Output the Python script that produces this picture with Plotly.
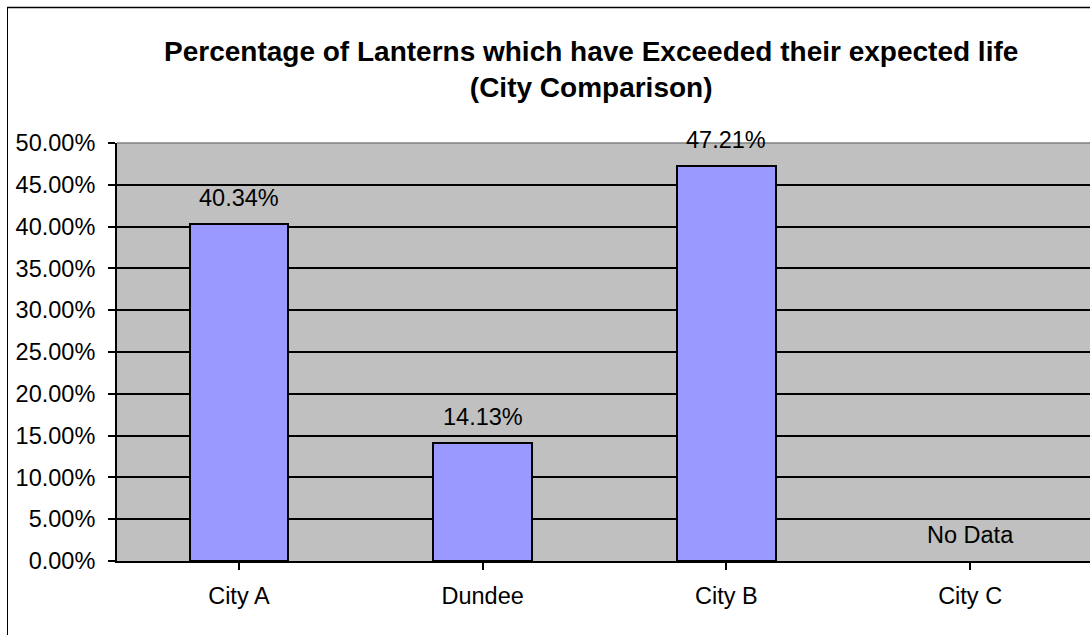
import plotly.graph_objects as go

categories = ["City A", "Dundee", "City B", "City C"]
values = [0.4034, 0.1413, 0.4721, None]
labels = ["40.34%", "14.13%", "47.21%", "No Data"]
title_lines = ["Percentage of Lanterns which have Exceeded their expected life", "(City Comparison)"]

W, H = 1090, 635
PL, PR, PT, PB = 117, 1090, 143, 561  # plot area in window pixels
L, T = PL, PT
R, B = (W - PR), (H - PB)
pw = PR - PL
ph = PB - PT

def px(x):
    return (x - PL) / pw

def py(y):
    return (PB - y) / ph

FONT = "Liberation Sans, Arial, sans-serif"
FS = 23.5

fig = go.Figure()
fig.add_trace(go.Bar(
    x=list(range(len(categories))), y=values,
    width=0.405,
    marker=dict(color="#9999ff", line=dict(color="black", width=2)),
    hoverinfo="skip",
))

for i, (v, t) in enumerate(zip(values, labels)):
    fig.add_annotation(x=i, y=v if v is not None else 0, text=t, showarrow=False,
                       yanchor="bottom", yshift=11,
                       font=dict(family=FONT, size=FS, color="black"))

fig.add_annotation(x=px(591), y=py(70), xref="paper", yref="paper",
                   xanchor="center", yanchor="middle",
                   text="<b>" + title_lines[0] + "</b><br><b>" + title_lines[1] + "</b>",
                   showarrow=False, font=dict(family=FONT, size=28, color="black"),
                   align="center")

# outer chart border (left and top)
fig.add_shape(type="line", xref="paper", yref="paper",
              x0=px(7.5), y0=py(H + 5), x1=px(7.5), y1=py(7.5),
              line=dict(color="black", width=1))
fig.add_shape(type="line", xref="paper", yref="paper",
              x0=px(7), y0=py(7.5), x1=px(W + 5), y1=py(7.5),
              line=dict(color="black", width=1.5))
# top edge of plot area (grey)
fig.add_shape(type="line", xref="paper", yref="paper",
              x0=0, y0=1, x1=1, y1=1, line=dict(color="#808080", width=1.5), layer="above")

fig.update_layout(
    width=W, height=H,
    margin=dict(l=L, r=R, t=T, b=B, pad=0),
    paper_bgcolor="white", plot_bgcolor="#c0c0c0",
    showlegend=False, bargap=0,
    font=dict(family=FONT, size=FS, color="black"),
)
fig.update_xaxes(
    range=[-0.5, 3.5 - 2 / 244], tickmode="array",
    tickvals=list(range(len(categories))), ticktext=categories,
    tickson="boundaries", ticks="outside", ticklen=7, tickwidth=1.5, tickcolor="black",
    showline=True, linecolor="black", linewidth=2, showgrid=False, zeroline=False,
    ticklabelstandoff=6, fixedrange=True,
    tickfont=dict(family=FONT, size=FS),
)
fig.update_yaxes(
    range=[0, 0.5], dtick=0.05, tickformat=".2%",
    ticks="outside", ticklen=7, tickwidth=1.5, tickcolor="black",
    showline=True, linecolor="black", linewidth=2,
    showgrid=True, gridcolor="black", gridwidth=1.5, zeroline=False,
    ticklabelstandoff=8, fixedrange=True,
    tickfont=dict(family=FONT, size=FS),
)

fig.write_html("out.html", config={"displayModeBar": False},
               post_script="document.body.style.margin='0';document.body.style.overflow='hidden';")
